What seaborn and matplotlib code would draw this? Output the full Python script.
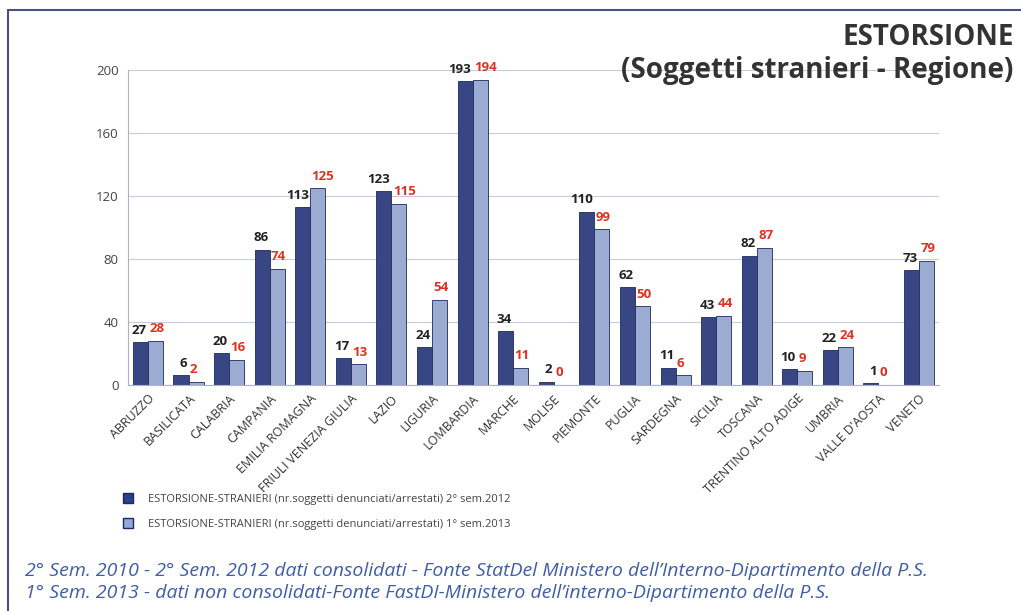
import matplotlib
matplotlib.use("Agg")
import matplotlib.pyplot as plt
from matplotlib.lines import Line2D
import seaborn as sns
import pandas as pd

# ------------------------------------------------------------
# DATI
# ------------------------------------------------------------
REGIONI = ["ABRUZZO", "BASILICATA", "CALABRIA", "CAMPANIA", "EMILIA ROMAGNA",
           "FRIULI VENEZIA GIULIA", "LAZIO", "LIGURIA", "LOMBARDIA", "MARCHE",
           "MOLISE", "PIEMONTE", "PUGLIA", "SARDEGNA", "SICILIA", "TOSCANA",
           "TRENTINO ALTO ADIGE", "UMBRIA", "VALLE D'AOSTA", "VENETO"]
SEM_2012 = [27, 6, 20, 86, 113, 17, 123, 24, 193, 34, 2, 110, 62, 11, 43, 82, 10, 22, 1, 73]
SEM_2013 = [28, 2, 16, 74, 125, 13, 115, 54, 194, 11, 0, 99, 50, 6, 44, 87, 9, 24, 0, 79]
SERIE = ["ESTORSIONE-STRANIERI (nr.soggetti denunciati/arrestati) 2° sem.2012",
         "ESTORSIONE-STRANIERI (nr.soggetti denunciati/arrestati) 1° sem.2013"]
Y_TICKS = [0, 40, 80, 120, 160, 200]

COLORI = ["#2b3f91", "#93a7db"]
COLORI_ETICHETTE = ["#222222", "#e03020"]

df = pd.DataFrame({
    "regione": REGIONI * 2,
    "valore": SEM_2012 + SEM_2013,
    "serie": [SERIE[0]] * len(REGIONI) + [SERIE[1]] * len(REGIONI),
})

# ------------------------------------------------------------
# GRAFICO
# ------------------------------------------------------------
sns.set_style("white")
plt.rcParams["font.family"] = ["Open Sans", "DejaVu Sans"]

fig = plt.figure(figsize=(10.21, 6.11), dpi=100)
ax = fig.add_axes([0.125, 0.37, 0.795, 0.515])

sns.barplot(data=df, x="regione", y="valore", hue="serie", palette=COLORI,
            width=0.74, edgecolor="#1c2a60", linewidth=0.6, legend=False, ax=ax)

ax.set_ylim(0, 200)
ax.set_yticks(Y_TICKS)
ax.tick_params(axis="y", labelsize=9.5, colors="#444444", length=3)
ax.tick_params(axis="x", labelsize=9, colors="#333333", length=0, pad=5)
ax.set_xticks(range(len(REGIONI)))
ax.set_xticklabels(REGIONI, rotation=45, ha="right", rotation_mode="anchor")
ax.set_xlabel("")
ax.set_ylabel("")
ax.yaxis.grid(True, color="#c8cbe0", linewidth=0.8)
ax.set_axisbelow(True)
for side in ["top", "right"]:
    ax.spines[side].set_visible(False)
ax.spines["left"].set_color("#b0b0c8")
ax.spines["bottom"].set_color("#b0b0c8")

# etichette dei valori: nera verso sinistra, rossa verso destra
for i, cont in enumerate(ax.containers):
    for bar in cont:
        h = bar.get_height()
        if i == 0:
            x, ha, dx = bar.get_x() + bar.get_width(), "right", -1
        else:
            x, ha, dx = bar.get_x(), "left", 1
        ax.annotate(f"{h:.0f}", (x, h), xytext=(dx, 4),
                    textcoords="offset points", ha=ha, va="bottom",
                    fontsize=9.5, fontweight="bold",
                    color=COLORI_ETICHETTE[i], annotation_clip=False)

# titolo
fig.text(0.993, 0.938, "ESTORSIONE", ha="right", va="center", fontsize=20,
         fontweight="bold", color="#333333")
fig.text(0.993, 0.885, "(Soggetti stranieri - Regione)", ha="right", va="center",
         fontsize=20, fontweight="bold", color="#333333")

# legenda
handles = [Line2D([0], [0], marker="s", linestyle="", markersize=7,
                  markerfacecolor=c, markeredgecolor="#1c2a60") for c in COLORI]
fig.legend(handles, SERIE, loc="upper left", bbox_to_anchor=(0.105, 0.208),
           frameon=False, fontsize=8, labelcolor="#444444", handletextpad=0.8,
           labelspacing=1.3)

# note in fondo
fig.text(0.024, 0.066, "2° Sem. 2010 - 2° Sem. 2012 dati consolidati - Fonte StatDel Ministero dell’Interno-Dipartimento della P.S.",
         fontsize=14, style="italic", color="#3e5ea8", va="center")
fig.text(0.024, 0.030, "1° Sem. 2013 - dati non consolidati-Fonte FastDI-Ministero dell’interno-Dipartimento della P.S.",
         fontsize=14, style="italic", color="#3e5ea8", va="center")

# cornice
fig.add_artist(Line2D([0.008, 1.0], [0.984, 0.984], color="#4a4f8a", linewidth=1.5))
fig.add_artist(Line2D([0.008, 0.008], [0.0, 0.984], color="#4a4f8a", linewidth=1.5))

fig.savefig("out.png", dpi=100)
